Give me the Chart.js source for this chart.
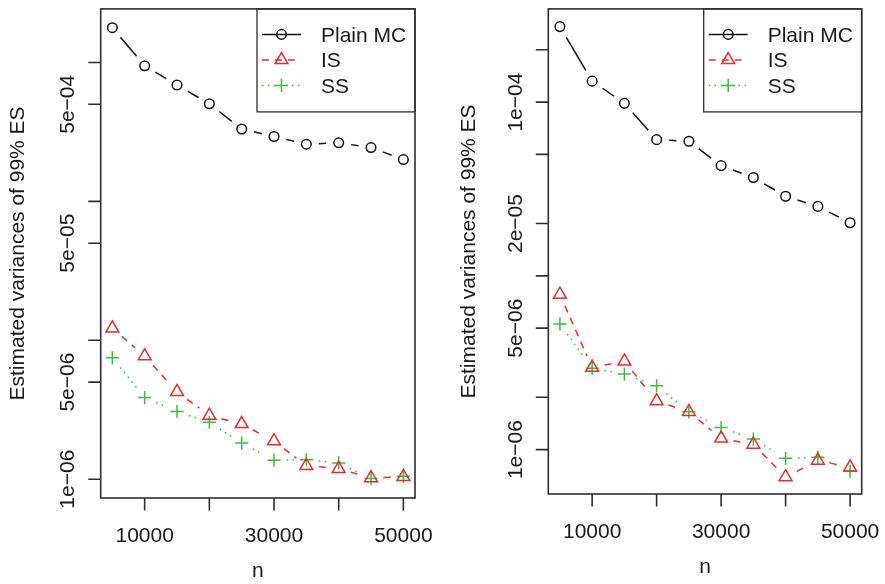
<!DOCTYPE html>
<html>
<head>
<meta charset="utf-8">
<title>Estimated variances of 99% ES</title>
<script src="https://cdn.jsdelivr.net/npm/chart.js@4.4.1/dist/chart.umd.min.js"></script>
<style>
  html, body { margin: 0; padding: 0; background: #ffffff; }
  #wrap { position: relative; width: 885px; height: 584px; }
  #wrap canvas { position: absolute; left: 0; top: 0; }
</style>
</head>
<body>
<div id="wrap">
  <canvas id="leftChart" width="885" height="584"></canvas>
  <canvas id="rightChart" width="885" height="584"></canvas>
</div>
<script>
// sample sizes
const sampleSizes = [5000, 10000, 15000, 20000, 25000, 30000, 35000, 40000, 45000, 50000];

// left panel
const leftPlainMC = [1.78e-3, 9.46e-4, 6.88e-4, 5.04e-4, 3.32e-4, 2.93e-4, 2.58e-4, 2.64e-4, 2.44e-4, 2.0e-4];
const leftIS = [1.22e-5, 7.7e-6, 4.25e-6, 2.87e-6, 2.5e-6, 1.88e-6, 1.25e-6, 1.19e-6, 1.02e-6, 1.04e-6];
const leftSS = [7.48e-6, 3.87e-6, 3.07e-6, 2.57e-6, 1.82e-6, 1.37e-6, 1.38e-6, 1.31e-6, 1.01e-6, 1.05e-6];

// right panel
const rightPlainMC = [2.72e-4, 1.32e-4, 9.84e-5, 6.08e-5, 5.95e-5, 4.31e-5, 3.68e-5, 2.87e-5, 2.51e-5, 2.02e-5];
const rightIS = [7.8e-6, 2.97e-6, 3.22e-6, 1.9e-6, 1.65e-6, 1.16e-6, 1.07e-6, 6.95e-7, 8.65e-7, 7.9e-7];
const rightSS = [5.29e-6, 2.94e-6, 2.72e-6, 2.33e-6, 1.65e-6, 1.34e-6, 1.15e-6, 8.9e-7, 9.04e-7, 7.5e-7];

// axis ticks
const xTicks = [10000, 20000, 30000, 40000, 50000];
const xTickLabels = ['10000', '', '30000', '', '50000'];
const leftYTicks = [1e-6, 5e-6, 1e-5, 5e-5, 1e-4, 5e-4, 1e-3];
const leftYTickLabels = ['1e\u221206', '5e\u221206', '', '5e\u221205', '', '5e\u221204', ''];
const rightYTicks = [1e-6, 2e-6, 5e-6, 1e-5, 2e-5, 5e-5, 1e-4, 2e-4];
const rightYTickLabels = ['1e\u221206', '', '5e\u221206', '', '2e\u221205', '', '1e\u221204', ''];

const seriesNames = ['Plain MC', 'IS', 'SS'];
const xTitle = 'n';
const yTitle = 'Estimated variances of 99% ES';

const FONT = '21px "Liberation Sans", Arial, Helvetica, sans-serif';
const INK = '#1a1a1a';
const BOX = '#2e2e2e';
const RED = '#e22e2e';
const GREEN = '#3dbd3d';

// series styles (R: type = "b", pch 1/2/3, lty 1/2/3)
const seriesStyles = [
  { color: '#111111', dash: [], pointStyle: 'circle', radius: 4.8 },
  { color: RED, dash: [7, 6], pointStyle: 'triangle', radius: 7.4 },
  { color: GREEN, dash: [1.5, 4.5], pointStyle: 'cross', radius: 6.6 }
];

// lines between points with gaps around each point, like R type = "b"
const gappedLines = {
  id: 'gappedLines',
  beforeDatasetsDraw(chart) {
    const ctx = chart.ctx;
    const gap = 12.5;
    chart.data.datasets.forEach((ds, i) => {
      const pts = chart.getDatasetMeta(i).data;
      ctx.save();
      ctx.strokeStyle = ds.borderColor;
      ctx.lineWidth = 1.5;
      ctx.setLineDash(ds.borderDash || []);
      for (let k = 0; k < pts.length - 1; k++) {
        const a = pts[k], b = pts[k + 1];
        const dx = b.x - a.x, dy = b.y - a.y;
        const len = Math.hypot(dx, dy);
        if (len <= 2 * gap) continue;
        const ux = dx / len, uy = dy / len;
        ctx.beginPath();
        ctx.moveTo(a.x + ux * gap, a.y + uy * gap);
        ctx.lineTo(b.x - ux * gap, b.y - uy * gap);
        ctx.stroke();
      }
      ctx.restore();
    });
  }
};

// R style box, axes, titles and legend
const rFrame = {
  id: 'rFrame',
  afterDraw(chart, args, opts) {
    const ctx = chart.ctx;
    const a = chart.chartArea;
    const x = chart.scales.x, y = chart.scales.y;
    ctx.save();
    ctx.strokeStyle = BOX;
    ctx.lineWidth = 1.6;
    ctx.setLineDash([]);
    ctx.strokeRect(a.left, a.top, a.right - a.left, a.bottom - a.top);

    // ticks
    ctx.beginPath();
    xTicks.forEach(v => {
      const px = x.getPixelForValue(v);
      ctx.moveTo(px, a.bottom);
      ctx.lineTo(px, a.bottom + 12.5);
    });
    opts.yTicks.forEach(v => {
      const py = y.getPixelForValue(v);
      ctx.moveTo(a.left, py);
      ctx.lineTo(a.left - 12.5, py);
    });
    ctx.stroke();

    // tick labels
    ctx.fillStyle = INK;
    ctx.font = FONT;
    ctx.textAlign = 'center';
    ctx.textBaseline = 'alphabetic';
    xTicks.forEach((v, i) => {
      if (xTickLabels[i]) ctx.fillText(xTickLabels[i], x.getPixelForValue(v), a.bottom + 44);
    });
    ctx.fillText(xTitle, (a.left + a.right) / 2, a.bottom + 79);

    opts.yTicks.forEach((v, i) => {
      const label = opts.yTickLabels[i];
      if (!label) return;
      ctx.save();
      ctx.translate(a.left - 26.5, y.getPixelForValue(v));
      ctx.rotate(-Math.PI / 2);
      ctx.fillText(label, 0, 0);
      ctx.restore();
    });

    ctx.save();
    ctx.translate(opts.yTitleX, (a.top + a.bottom) / 2);
    ctx.rotate(-Math.PI / 2);
    ctx.fillText(yTitle, 0, 0);
    ctx.restore();

    // legend
    const lw = 158, lh = 103;
    const lx = a.right - lw, ly = a.top;
    ctx.lineWidth = 1.3;
    ctx.strokeStyle = BOX;
    ctx.strokeRect(lx, ly, lw, lh);
    ctx.textAlign = 'left';
    seriesNames.forEach((name, i) => {
      const st = seriesStyles[i];
      const ey = ly + 25.5 + i * 25.5;
      ctx.save();
      ctx.strokeStyle = st.color;
      ctx.lineWidth = 1.5;
      ctx.setLineDash(st.dash);
      ctx.beginPath();
      ctx.moveTo(lx + 5, ey);
      ctx.lineTo(lx + 44, ey);
      ctx.stroke();
      ctx.setLineDash([]);
      ctx.fillStyle = 'rgba(0,0,0,0)';
      Chart.helpers.drawPoint(ctx, { pointStyle: st.pointStyle, radius: st.radius, borderWidth: 1.5, rotation: 0 }, lx + 24.5, ey);
      ctx.restore();
      ctx.fillStyle = INK;
      ctx.fillText(name, lx + 64, ey + 7.5);
    });
    ctx.restore();
  }
};

function makeDatasets(series) {
  return series.map((values, i) => {
    const st = seriesStyles[i];
    return {
      label: seriesNames[i],
      data: values.map((v, k) => ({ x: sampleSizes[k], y: v })),
      showLine: false,
      borderColor: st.color,
      borderDash: st.dash,
      backgroundColor: 'rgba(0,0,0,0)',
      pointStyle: st.pointStyle,
      pointRadius: st.radius,
      pointBorderWidth: 1.5,
      pointBorderColor: st.color,
      pointBackgroundColor: 'rgba(0,0,0,0)',
      clip: false
    };
  });
}

function makePanel(canvasId, series, padding, yMin, yMax, yTicks, yTickLabels, yTitleX) {
  new Chart(document.getElementById(canvasId), {
    type: 'line',
    data: { datasets: makeDatasets(series) },
    options: {
      responsive: false,
      animation: false,
      events: [],
      layout: { padding: padding },
      plugins: {
        legend: { display: false },
        tooltip: { enabled: false },
        rFrame: { yTicks: yTicks, yTickLabels: yTickLabels, yTitleX: yTitleX }
      },
      scales: {
        x: { type: 'linear', min: 3200, max: 51800, bounds: 'data', display: false },
        y: { type: 'logarithmic', min: yMin, max: yMax, bounds: 'data', display: false }
      }
    },
    plugins: [gappedLines, rFrame]
  });
}

makePanel('leftChart', [leftPlainMC, leftIS, leftSS],
  { left: 100.7, top: 5, right: 470, bottom: 86 },
  7.32e-7, 2.43e-3, leftYTicks, leftYTickLabels, 23.5);

makePanel('rightChart', [rightPlainMC, rightIS, rightSS],
  { left: 548.3, top: 2.7, right: 23.3, bottom: 90 },
  5.55e-7, 3.44e-4, rightYTicks, rightYTickLabels, 475);
</script>
</body>
</html>
